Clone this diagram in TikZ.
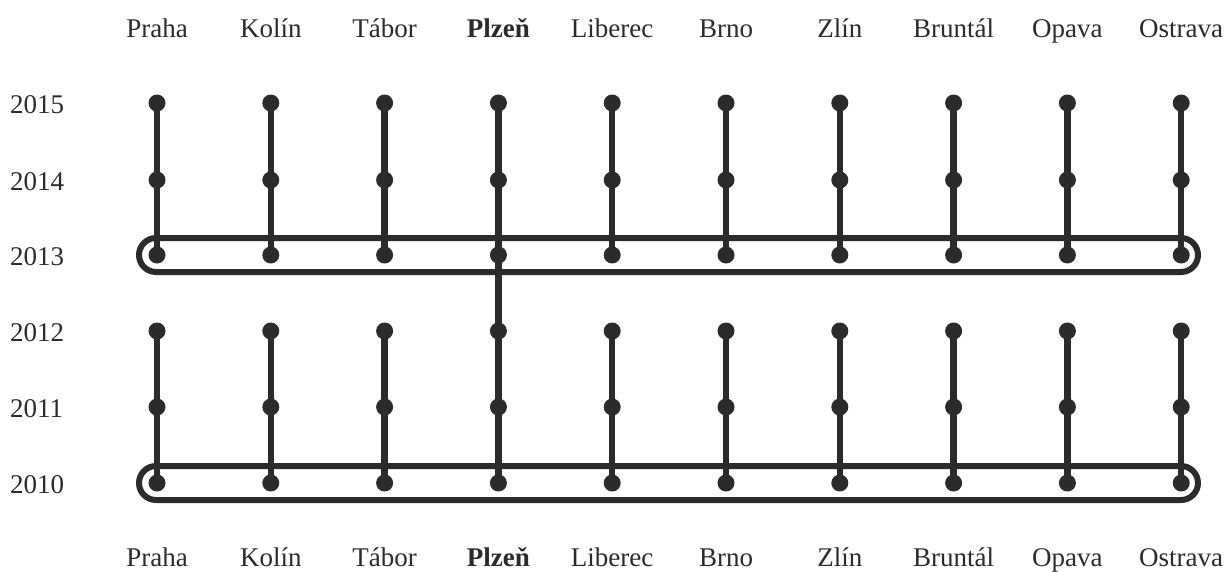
\documentclass[tikz,border=0pt]{standalone}
\usepackage{fontspec}
\setmainfont{Liberation Serif}
\definecolor{ink}{HTML}{2B2B2B}
\begin{document}
\begin{tikzpicture}[x=1pt,y=-1pt,
  dot/.style={circle,fill=ink,inner sep=0pt,minimum size=17pt},
  stem/.style={draw=ink,line width=6.5pt},
  band/.style={draw=ink,line width=6pt,rounded corners=17pt},
  lbl/.style={text=ink,font=\fontsize{27}{30}\selectfont,anchor=base,inner sep=0pt},
  yr/.style={text=ink,font=\fontsize{27}{30}\selectfont,anchor=base west,inner sep=0pt}]
\useasboundingbox (0,0) rectangle (1224,571);
\def\cities{Praha,Kolín,Tábor,\textbf{Plzeň},Liberec,Brno,Zlín,Bruntál,Opava,Ostrava}
% rows
\foreach \yv/\yy in {2015/103,2014/180,2013/255,2012/331,2011/407,2010/483}
  \node[yr] (y\yv) at (10,\yy+10) {\yv};
% bands
\draw[band] (139,238) rectangle (1198,272);
\draw[band] (139,466) rectangle (1198,500);
% columns
\foreach \c [count=\i] in \cities {
  \pgfmathsetmacro{\xx}{157+(\i-1)*113.8}
  \node[lbl] (t\i) at (\xx,37) {\c};
  \node[lbl] (b\i) at (\xx,566) {\c};
  \foreach \yv/\yy in {2015/103,2014/180,2013/255,2012/331,2011/407,2010/483}
    \coordinate (p\i-\yv) at (\xx,\yy);
  \draw[stem] (p\i-2015) -- (p\i-2013);
  \draw[stem] (p\i-2012) -- (p\i-2010);
  \foreach \yv in {2015,2014,2013,2012,2011,2010}
    \node[dot] (d\i-\yv) at (p\i-\yv) {};
}
\draw[stem] (p4-2013) -- (p4-2012);
\end{tikzpicture}
\end{document}
